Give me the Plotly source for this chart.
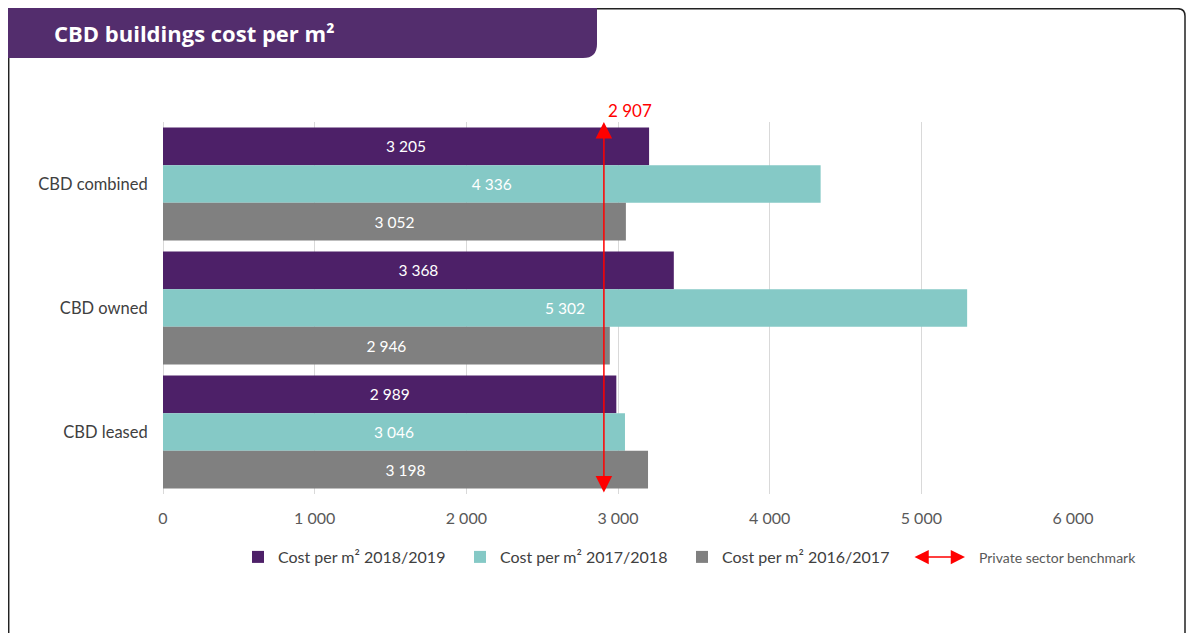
import plotly.graph_objects as go

# chart data
categories = ["CBD combined", "CBD owned", "CBD leased"]
series_names = ["Cost per m² 2018/2019", "Cost per m² 2017/2018", "Cost per m² 2016/2017"]
cost_2018_19 = [3205, 3368, 2989]
cost_2017_18 = [4336, 5302, 3046]
cost_2016_17 = [3052, 2946, 3198]
benchmark = 2907
benchmark_name = "Private sector benchmark"
x_ticks = [0, 1000, 2000, 3000, 4000, 5000, 6000]
title_text = "CBD buildings cost per m²"

colors = ["#4D2068", "#85C9C6", "#808080"]
FONT = "Lato"

# page geometry: the page body adds an 8px offset, so work in screen pixels minus 8
O = 8
W, H = 1178, 625
L, R, T, B = 163 - O, 113, 122 - O, 139
PW, PH = W - L - R, H - T - B


def px(x):
    # screen x pixel -> paper
    return (x - O - L) / PW


def py(y):
    # screen y pixel -> paper
    return (H - B - (y - O)) / PH


fig = go.Figure()
for name, vals, col in zip(series_names, [cost_2018_19, cost_2017_18, cost_2016_17], colors):
    fig.add_trace(go.Bar(
        y=categories, x=vals, name=name, orientation="h",
        marker=dict(color=col, line=dict(width=0)),
        texttemplate="%{x:,d}", textposition="inside", insidetextanchor="middle",
        textfont=dict(color="white", size=15.5, family=FONT),
        hoverinfo="skip",
    ))

# benchmark double arrow
fig.add_annotation(
    x=benchmark, y=1, xref="x", yref="y domain",
    ax=benchmark, ay=0, axref="x", ayref="y domain",
    text="", showarrow=True, arrowside="end+start",
    arrowhead=2, startarrowhead=2, arrowsize=2.2, startarrowsize=2.2,
    arrowwidth=1.5, arrowcolor="#FF0000",
)
fig.add_annotation(
    x=benchmark, y=1, xref="x", yref="y domain",
    text=f"{benchmark:,d}".replace(",", " "), showarrow=False, xanchor="left", yanchor="middle",
    xshift=2, yshift=12, font=dict(color="#FF0000", size=17, family=FONT),
)

# frame and title banner
fig.add_shape(type="path", xref="paper", yref="paper",
              path=(f"M{px(8.7)},{py(660)} L{px(8.7)},{py(8.7)} L{px(1178)},{py(8.7)} "
                    f"Q{px(1185)},{py(8.7)} {px(1185)},{py(16)} L{px(1185)},{py(660)}"),
              line=dict(color="#222222", width=1.5), layer="below")
fig.add_shape(type="path", xref="paper", yref="paper",
              path=(f"M{px(8)},{py(8)} L{px(597)},{py(8)} L{px(597)},{py(44)} "
                    f"Q{px(597)},{py(58)} {px(583)},{py(58)} L{px(8)},{py(58)} Z"),
              fillcolor="#532D6D", line=dict(width=0), layer="below")
fig.add_annotation(x=px(52), y=py(33), xref="paper", yref="paper", text=f"<b>{title_text}</b>",
                   showarrow=False, xanchor="left", yanchor="middle",
                   font=dict(color="white", size=22, family="Open Sans"))

# legend key for benchmark
fig.add_annotation(x=px(965), y=py(557), xref="paper", yref="paper",
                   ax=-52, ay=0, axref="pixel", ayref="pixel",
                   text="", showarrow=True, arrowside="end+start",
                   arrowhead=2, startarrowhead=2, arrowsize=1.9, startarrowsize=1.9,
                   arrowwidth=1.5, arrowcolor="#FF0000")
fig.add_annotation(x=px(977), y=py(557), xref="paper", yref="paper", text=benchmark_name,
                   showarrow=False, xanchor="left", yanchor="middle",
                   font=dict(color="#595959", size=14, family=FONT))

fig.update_layout(
    width=W, height=H, autosize=False,
    margin=dict(l=L, r=R, t=T, b=B),
    plot_bgcolor="white", paper_bgcolor="white",
    barmode="group", bargap=0.09, bargroupgap=0,
    separators=". ",
    showlegend=True,
    legend=dict(orientation="h", x=px(238), y=py(557), xanchor="left", yanchor="middle",
                entrywidth=177, entrywidthmode="pixels", itemwidth=30,
                font=dict(size=16, family=FONT, color="#404040"),
                traceorder="normal"),
    font=dict(family=FONT),
)
fig.update_xaxes(range=[0, 6000], tickvals=x_ticks, tickformat=",d",
                 showgrid=True, gridcolor="#D9D9D9", gridwidth=1,
                 zeroline=True, zerolinecolor="#D9D9D9", zerolinewidth=1,
                 ticks="outside", ticklen=10, tickcolor="rgba(0,0,0,0)",
                 tickfont=dict(size=16, color="#595959", family=FONT), fixedrange=True)
fig.update_yaxes(autorange="reversed", showgrid=False, showline=False,
                 ticks="outside", ticklen=11, tickcolor="rgba(0,0,0,0)",
                 tickfont=dict(size=16.5, color="#404040", family=FONT), fixedrange=True)

fig.write_html("out.html")
